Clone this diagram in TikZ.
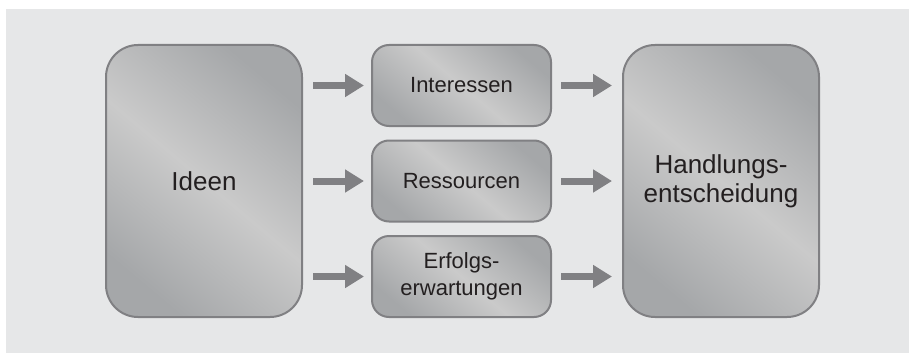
\documentclass[tikz,border=0pt]{standalone}
\usepackage{fontspec}
\setmainfont{Liberation Sans}
\usetikzlibrary{positioning,arrows.meta}
\definecolor{bggray}{HTML}{E6E7E8}
\definecolor{framegray}{HTML}{808083}
\definecolor{darkfill}{HTML}{A5A7A9}
\definecolor{lightfill}{HTML}{CACACA}
\definecolor{textgray}{HTML}{231F20}
\begin{document}
\begin{tikzpicture}[
    x=1pt, y=1pt,
    node distance=12.5pt,
    box/.style={draw=framegray, line width=2pt, text=textgray,
        top color=darkfill, bottom color=darkfill, middle color=lightfill,
        shading angle=-40, align=center},
    bigbox/.style={box, rounded corners=32pt, minimum width=196pt,
        minimum height=272pt, font=\fontsize{26}{29}\selectfont},
    smallbox/.style={box, rounded corners=17pt, minimum width=179pt,
        minimum height=81pt, font=\fontsize{22}{27}\selectfont},
    flow/.style={draw=framegray, line width=7pt,
        -{Triangle[width=22pt, length=19pt]}}
    ]

\useasboundingbox (0,0) rectangle (909,-353);
\fill[bggray] (6,-9) rectangle (909,-353);

\node[bigbox] (ideen) at (204,-181) {Ideen};
\node[smallbox, right=68pt of ideen] (ress) {Ressourcen};
\node[smallbox, above=of ress] (inter) {Interessen};
\node[smallbox, below=of ress] (erfolg) {Erfolgs-\\erwartungen};
\node[bigbox, right=70pt of ress] (handlung) {Handlungs-\\entscheidung};

\foreach \mid in {inter, ress, erfolg} {
    \draw[flow, shorten <=10pt, shorten >=7pt] (ideen.east |- \mid.west) -- (\mid.west);
    \draw[flow, shorten <=9pt, shorten >=10pt] (\mid.east) -- (handlung.west |- \mid.east);
}
\end{tikzpicture}
\end{document}
